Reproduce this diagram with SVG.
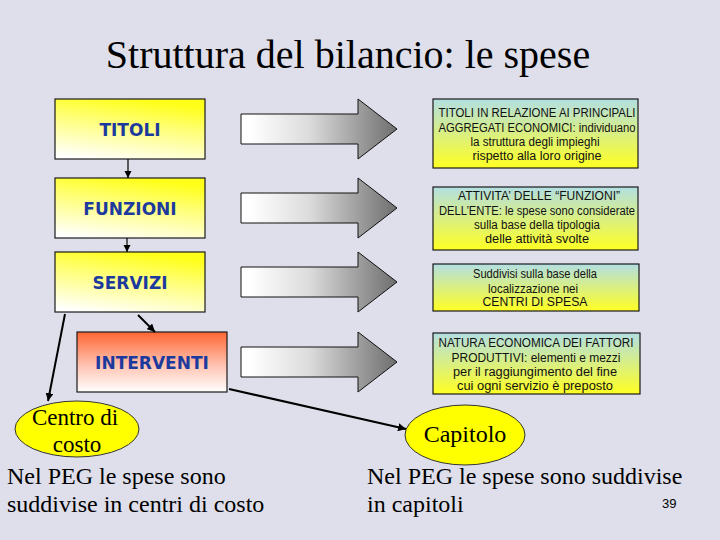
<svg xmlns="http://www.w3.org/2000/svg" width="720" height="540" viewBox="0 0 720 540">
<defs>
<linearGradient id="gYel" x1="0.5" y1="0" x2="0.2" y2="1"><stop offset="0" stop-color="#ffff1a"/><stop offset="0.35" stop-color="#ffff70"/><stop offset="1" stop-color="#ffffff"/></linearGradient>
<linearGradient id="gRed" x1="0" y1="0" x2="0" y2="1"><stop offset="0" stop-color="#ff6633"/><stop offset="0.55" stop-color="#ffc2b0"/><stop offset="1" stop-color="#ffffff"/></linearGradient>
<linearGradient id="gTeal" x1="0" y1="0" x2="0" y2="1"><stop offset="0" stop-color="#b3dfe3"/><stop offset="1" stop-color="#ffff22"/></linearGradient>
<linearGradient id="gGray" gradientUnits="userSpaceOnUse" x1="250" y1="0" x2="397" y2="0"><stop offset="0" stop-color="#ffffff"/><stop offset="0.4" stop-color="#dcdcdc"/><stop offset="1" stop-color="#6e6e6e"/></linearGradient>
<marker id="ah" viewBox="0 0 10 10" refX="10" refY="5" markerWidth="4" markerHeight="4" orient="auto" markerUnits="strokeWidth"><path d="M0,0 L10,5 L0,10 z" fill="#000"/></marker>
<marker id="ahs" viewBox="0 0 10 10" refX="10" refY="5" markerWidth="6" markerHeight="6" orient="auto" markerUnits="strokeWidth"><path d="M0,0 L10,5 L0,10 z" fill="#000"/></marker>
<path id="bigArrow" d="M241,-15 L358,-15 L358,-30 L397,0 L358,30 L358,15 L241,15 Z"/>
</defs>
<style>
.bg{fill:#dfdfeb}
.lbox{fill:url(#gYel);stroke:#1a1a1a;stroke-width:1.2}
.rbox{fill:url(#gTeal);stroke:#1a1a1a;stroke-width:1.2}
.lt{font-family:"DejaVu Sans",Verdana,sans-serif;font-weight:bold;font-size:17px;fill:#1c3a9e;text-anchor:middle}
.rt{font-family:"Liberation Sans",Arial,sans-serif;font-size:12px;fill:#111;text-anchor:middle}
.serif{font-family:"Liberation Serif","Times New Roman",serif;fill:#000}
.ga{fill:url(#gGray);stroke:#111;stroke-width:1}
.ell{fill:#ffff00;stroke:#333;stroke-width:1}
.conn line{stroke:#000}
</style>
<rect class="bg" x="0" y="0" width="720" height="540"/>
<text class="serif" x="348" y="68" font-size="40" text-anchor="middle">Struttura del bilancio: le spese</text>

<g id="titoli"><rect class="lbox" x="55" y="99" width="150" height="60"/><text class="lt" x="130" y="136">TITOLI</text></g>
<g id="funzioni"><rect class="lbox" x="55" y="178" width="150" height="60"/><text class="lt" x="130" y="215">FUNZIONI</text></g>
<g id="servizi"><rect class="lbox" x="55" y="252" width="150" height="60"/><text class="lt" x="130" y="289">SERVIZI</text></g>
<g id="interventi"><rect x="77" y="332" width="150" height="60" fill="url(#gRed)" stroke="#1a1a1a" stroke-width="1.2"/><text class="lt" x="152" y="369">INTERVENTI</text></g>

<g id="arrow1"><use href="#bigArrow" class="ga" transform="translate(0,129)"/></g>
<g id="arrow2"><use href="#bigArrow" class="ga" transform="translate(0,208)"/></g>
<g id="arrow3"><use href="#bigArrow" class="ga" transform="translate(0,282)"/></g>
<g id="arrow4"><use href="#bigArrow" class="ga" transform="translate(0,362)"/></g>

<g id="desc1"><rect class="rbox" x="433" y="99" width="205" height="69"/>
<text class="rt" x="537" y="117" textLength="197" lengthAdjust="spacingAndGlyphs">TITOLI IN RELAZIONE AI PRINCIPALI</text>
<text class="rt" x="537" y="131.5" textLength="197" lengthAdjust="spacingAndGlyphs">AGGREGATI ECONOMICI: individuano</text>
<text class="rt" x="535" y="146" textLength="129" lengthAdjust="spacingAndGlyphs">la struttura degli impieghi</text>
<text class="rt" x="537" y="160" textLength="129" lengthAdjust="spacingAndGlyphs">rispetto alla loro origine</text></g>

<g id="desc2"><rect class="rbox" x="433" y="187" width="205" height="63"/>
<text class="rt" x="539" y="200" textLength="162" lengthAdjust="spacingAndGlyphs">ATTIVITA’ DELLE “FUNZIONI”</text>
<text class="rt" x="537" y="214.5" textLength="196" lengthAdjust="spacingAndGlyphs">DELL’ENTE: le spese sono considerate</text>
<text class="rt" x="537" y="229" textLength="126" lengthAdjust="spacingAndGlyphs">sulla base della tipologia</text>
<text class="rt" x="537" y="243" textLength="104" lengthAdjust="spacingAndGlyphs">delle attività svolte</text></g>

<g id="desc3"><rect class="rbox" x="433" y="264" width="206" height="47"/>
<text class="rt" x="535" y="278" textLength="124" lengthAdjust="spacingAndGlyphs">Suddivisi sulla base della</text>
<text class="rt" x="533" y="292.5" textLength="90" lengthAdjust="spacingAndGlyphs">localizzazione nei</text>
<text class="rt" x="535" y="306" textLength="105" lengthAdjust="spacingAndGlyphs">CENTRI DI SPESA</text></g>

<g id="desc4"><rect class="rbox" x="433" y="333" width="207" height="61"/>
<text class="rt" x="536" y="347" textLength="195" lengthAdjust="spacingAndGlyphs">NATURA ECONOMICA DEI FATTORI</text>
<text class="rt" x="536" y="361.5" textLength="169" lengthAdjust="spacingAndGlyphs">PRODUTTIVI: elementi e mezzi</text>
<text class="rt" x="535" y="376" textLength="164" lengthAdjust="spacingAndGlyphs">per il raggiungimento del fine</text>
<text class="rt" x="535" y="390" textLength="156" lengthAdjust="spacingAndGlyphs">cui ogni servizio è preposto</text></g>

<g id="centro"><ellipse class="ell" cx="77" cy="429" rx="62" ry="28"/>
<text class="serif" x="75" y="425" font-size="23" text-anchor="middle">Centro di</text>
<text class="serif" x="77" y="452" font-size="23" text-anchor="middle">costo</text></g>

<g id="capitolo"><ellipse class="ell" cx="465" cy="435" rx="60" ry="30"/>
<text class="serif" x="465" y="442" font-size="24" text-anchor="middle">Capitolo</text></g>

<g class="conn" id="connectors">
<line x1="128" y1="159" x2="128" y2="178" stroke-width="1.2" marker-end="url(#ahs)"/>
<line x1="127" y1="238" x2="127" y2="252" stroke-width="1.2" marker-end="url(#ahs)"/>
<line x1="138" y1="315" x2="155" y2="332" stroke-width="2" marker-end="url(#ah)"/>
<line x1="65" y1="314" x2="48" y2="401" stroke-width="2" marker-end="url(#ah)"/>
<line x1="229" y1="389" x2="406" y2="429" stroke-width="2" marker-end="url(#ah)"/>
</g>

<text class="serif" x="7" y="484" font-size="24">Nel PEG le spese sono</text>
<text class="serif" x="7" y="512" font-size="24">suddivise in centri di costo</text>
<text class="serif" x="367" y="484" font-size="24">Nel PEG le spese sono suddivise</text>
<text class="serif" x="367" y="512" font-size="24">in capitoli</text>
<text x="662" y="508" font-family="Liberation Sans,Arial,sans-serif" font-size="13" fill="#000">39</text>
</svg>
